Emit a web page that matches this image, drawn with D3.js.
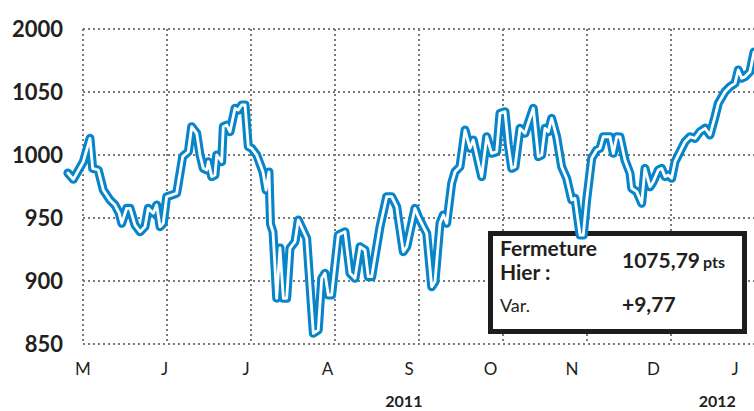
<!DOCTYPE html>
<html>
<head>
<meta charset="utf-8">
<script src="https://cdn.jsdelivr.net/npm/d3@7"></script>
<style>
  html, body { margin: 0; padding: 0; background: #fff; }
  svg { display: block; }
  text { font-family: Lato, "Open Sans", "DejaVu Sans", sans-serif; }
</style>
</head>
<body>
<svg id="chart" width="754" height="411"></svg>
<script>
// ---- DATA ----
// time position in months since 1 May 2011
const months = [-0.18,-0.115,0.004,0.083,0.115,0.182,0.242,0.321,0.381,0.432,0.461,0.52,0.56,0.619,0.679,0.738,0.777,0.837,0.877,0.917,0.956,0.996,1.06,1.115,1.187,1.254,1.294,1.354,1.393,1.432,1.473,1.492,1.532,1.571,1.592,1.651,1.67,1.711,1.75,1.81,1.849,1.889,1.929,1.968,2.008,2.068,2.127,2.143,2.179,2.214,2.232,2.262,2.306,2.345,2.385,2.425,2.464,2.524,2.563,2.663,2.742,2.801,2.842,2.881,2.92,2.96,3.039,3.119,3.179,3.238,3.298,3.357,3.396,3.437,3.536,3.615,3.675,3.735,3.754,3.813,3.854,3.952,3.992,4.051,4.092,4.151,4.19,4.25,4.289,4.33,4.389,4.429,4.488,4.548,4.607,4.646,4.746,4.806,4.865,4.925,4.964,5.024,5.063,5.104,5.143,5.202,5.262,5.301,5.361,5.42,5.461,5.5,5.539,5.579,5.639,5.698,5.758,5.818,5.857,5.917,5.956,5.996,6.056,6.115,6.155,6.194,6.274,6.313,6.354,6.393,6.452,6.512,6.532,6.592,6.651,6.69,6.75,6.789,6.849,6.889,6.929,6.968,7.008,7.048,7.107,7.167,7.226,7.286,7.345,7.405,7.464,7.524,7.563,7.643,7.702,7.762,7.801,7.842,7.881,7.94,7.988];
const values = [985.7,980.7,994.7,1013.2,989.4,988.1,972.2,964.3,960.3,953.7,945.8,957.7,957.7,944.4,939.1,943.1,957.7,953.7,960.3,943.1,945.8,966.9,968.3,969.6,998.7,1002.6,1022.5,1017.2,1000,989.4,988.1,994.7,982.8,984.1,1000,994.7,1022.5,1023.8,1018.5,1037.1,1035.7,1039.7,1039.7,1006.6,1005.3,1000,989.4,986.5,972.2,986.5,945.2,938.9,886.3,926.2,886.3,886.3,926,931.2,948.4,933.9,858.5,861.1,902.1,906.1,888.9,888.9,936.5,939.1,906.1,902.1,927.2,924.6,903.4,903.4,943.1,966.9,966.9,959,949.8,923.3,927.2,957.7,951,943.1,937.9,895.5,899.4,945.8,952.4,945.8,977.5,986.7,990.7,1019.8,1005.3,1011.9,982.8,1014.5,1001.3,1002.6,1033.1,1034.4,1007.9,989.4,990.7,1021.2,1017.2,1025.2,1037.1,998.7,1000,1021.2,1018.5,1029.1,1014.5,990.7,981.5,964.3,965.6,936.5,936.5,964.3,997.4,1004,1005.3,1014.5,1014.5,1001.3,1014.5,1014.3,996,985.5,973.6,970.9,961.7,989.4,974.8,978.8,988.1,989.4,982.8,984.1,981.5,994.7,1002.6,1010.6,1014.5,1013.2,1018.5,1021.2,1015.9,1030.4,1041,1050.2,1054.2,1056.9,1067.5,1060.9,1062.1,1066.1,1081.7];

const yTickValues = [850, 900, 950, 1000, 1050, 1100];
const yTickLabels = ["850", "900", "950", "1000", "1050", "2000"];
const monthLabels = ["M", "J", "J", "A", "S", "O", "N", "D", "J"];
const monthGrid = [0, 1, 2, 3, 4, 5, 6, 7, 8];
const yearLabels = ["2011", "2012"];
const yearPositions = [3.82, 7.55];

const boxLabels = ["Fermeture", "Hier :", "Var."];
const closeValue = "1075,79";
const closeUnit = "pts";
const variation = "+9,77";

// ---- LAYOUT ----
const svg = d3.select("#chart");
const x = d3.scaleLinear().domain([0, 8]).range([83, 755]);
const y = d3.scaleLinear().domain([850, 1100]).range([344, 29]);
const xLab = d3.scalePoint().domain(d3.range(monthLabels.length)).range([83, 735]);

const blue = "#0884c9";
const gridColor = "#7a7a7a";

// grid
const grid = svg.append("g");
grid.selectAll("line.h").data(yTickValues).join("line")
  .attr("x1", x(0)).attr("x2", 754)
  .attr("y1", d => y(d)).attr("y2", d => y(d))
  .attr("stroke", gridColor).attr("stroke-width", 2)
  .attr("stroke-dasharray", "2,3");
grid.selectAll("line.v").data(monthGrid).join("line")
  .attr("x1", d => x(d)).attr("x2", d => x(d))
  .attr("y1", y(1100)).attr("y2", y(850))
  .attr("stroke", gridColor).attr("stroke-width", 2)
  .attr("stroke-dasharray", "2,3");

// y axis labels
const yAxis = d3.axisLeft(y).tickValues(yTickValues)
  .tickFormat((d, i) => yTickLabels[i]).tickSize(0).tickPadding(0);
const ya = svg.append("g").attr("transform", "translate(63,0)").call(yAxis);
ya.select(".domain").remove();
ya.selectAll("text")
  .attr("font-family", "Lato, 'Open Sans', sans-serif")
  .attr("font-size", 22).attr("font-weight", 700).attr("fill", "#231f20")
  .attr("dy", "0.36em");

// month labels
svg.append("g").selectAll("text").data(monthLabels).join("text")
  .attr("x", (d, i) => xLab(i)).attr("y", 375)
  .attr("text-anchor", "middle")
  .attr("font-size", 17).attr("font-weight", 400).attr("fill", "#231f20")
  .text(d => d);

// year labels
svg.append("g").selectAll("text").data(yearLabels).join("text")
  .attr("x", (d, i) => x(yearPositions[i])).attr("y", 407)
  .attr("text-anchor", "middle")
  .attr("font-size", 16).attr("font-weight", 700).attr("fill", "#231f20")
  .text(d => d);

// info box
const box = svg.append("g");
box.append("rect")
  .attr("x", 490.5).attr("y", 233.5).attr("width", 254).attr("height", 98)
  .attr("fill", "#fff").attr("stroke", "#1d1d1b").attr("stroke-width", 5);
box.append("text").attr("x", 500).attr("y", 256)
  .attr("font-size", 21).attr("font-weight", 700).attr("fill", "#231f20").text(boxLabels[0]);
box.append("text").attr("x", 500).attr("y", 280)
  .attr("font-size", 21).attr("font-weight", 700).attr("fill", "#231f20").text(boxLabels[1]);
box.append("text").attr("x", 500).attr("y", 312)
  .attr("font-size", 18).attr("font-weight", 400).attr("fill", "#231f20").text(boxLabels[2]);
const cv = box.append("text").attr("x", 622).attr("y", 268)
  .attr("font-weight", 700).attr("fill", "#231f20");
cv.append("tspan").attr("font-size", 21).text(closeValue);
cv.append("tspan").attr("font-size", 16).attr("dx", 3).text(closeUnit);
box.append("text").attr("x", 622).attr("y", 312)
  .attr("font-size", 21).attr("font-weight", 700).attr("fill", "#231f20").text(variation);

// line
const data = months.map((m, i) => ({ m, v: values[i] }));
const line = d3.line().x(d => x(d.m)).y(d => y(d.v));
svg.append("path").datum(data).attr("d", line)
  .attr("fill", "none").attr("stroke", blue).attr("stroke-width", 9)
  .attr("stroke-linejoin", "round").attr("stroke-linecap", "round");
svg.append("path").datum(data).attr("d", line)
  .attr("fill", "none").attr("stroke", "#fff").attr("stroke-width", 2.8)
  .attr("stroke-linejoin", "round").attr("stroke-linecap", "round");
</script>
</body>
</html>
